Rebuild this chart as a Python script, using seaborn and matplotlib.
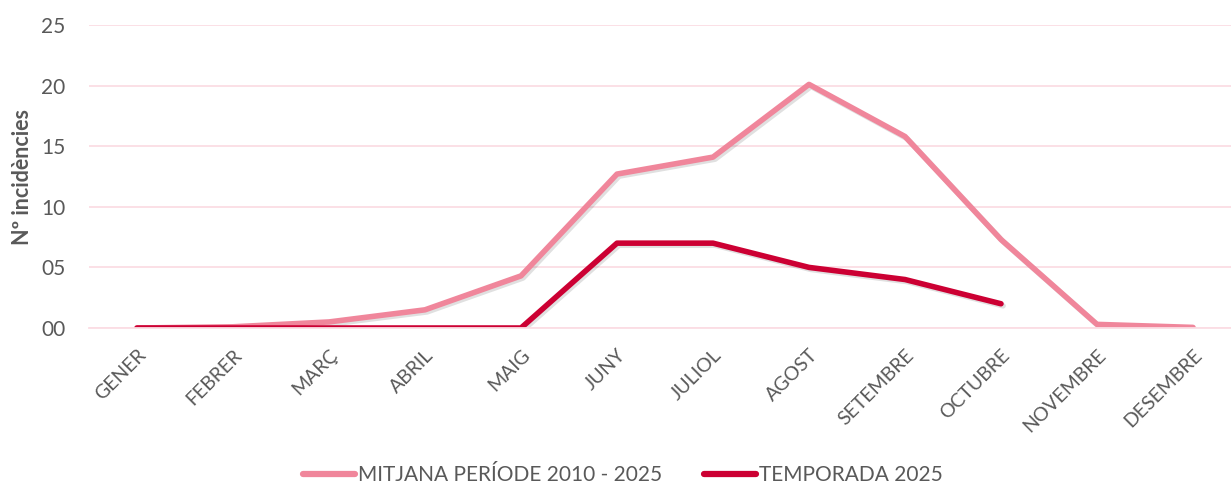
import numpy as np
import pandas as pd
import matplotlib
matplotlib.use("Agg")
import matplotlib.pyplot as plt
import matplotlib.patheffects as pe
from matplotlib.ticker import FixedLocator, FormatStrFormatter
import seaborn as sns

sns.set_theme(style="white")
plt.rcParams['font.family'] = ['Lato', 'DejaVu Sans']

# data
months = ["GENER", "FEBRER", "MARÇ", "ABRIL", "MAIG", "JUNY", "JULIOL",
          "AGOST", "SETEMBRE", "OCTUBRE", "NOVEMBRE", "DESEMBRE"]
mitjana = [0.0, 0.1, 0.5, 1.5, 4.3, 12.7, 14.1, 20.1, 15.8, 7.3, 0.3, 0.05]
temporada = [0, 0, 0, 0, 0, 7, 7, 5, 4, 2]

label_mitjana = "MITJANA PERÍODE 2010 - 2025"
label_temporada = "TEMPORADA 2025"

pink = "#F0869B"
red = "#CC0033"
grid_c = "#FBDDE4"
text_c = "#595959"

df_m = pd.DataFrame({"mes": months, "val": mitjana})
df_t = pd.DataFrame({"mes": months[:len(temporada)], "val": temporada})

fig = plt.figure(figsize=(12.31, 4.94), dpi=100)
ax = fig.add_axes([89 / 1231, 166 / 494, 1152 / 1231, 303 / 494])

shadow = [pe.SimpleLineShadow(offset=(1.5, -1.5), alpha=0.12, shadow_color="black"), pe.Normal()]

sns.lineplot(data=df_m, x="mes", y="val", ax=ax, color=pink, lw=4, sort=False,
             label=label_mitjana, solid_capstyle="round", path_effects=shadow)
sns.lineplot(data=df_t, x="mes", y="val", ax=ax, color=red, lw=4, sort=False,
             label=label_temporada, solid_capstyle="round", path_effects=shadow)

ax.set_xlim(-0.5, 11.5)
ax.set_ylim(0, 25)
ax.set_yticks([0, 5, 10, 15, 20, 25])
ax.yaxis.set_major_formatter(FormatStrFormatter("%02d"))
ax.yaxis.grid(True, color=grid_c, lw=1.3)
ax.set_axisbelow(True)
for s in ["top", "right", "left"]:
    ax.spines[s].set_visible(False)
ax.spines["bottom"].set_color(grid_c)
ax.spines["bottom"].set_linewidth(1.3)

ax.tick_params(axis="y", length=0, pad=17, labelsize=15, labelcolor=text_c)
ax.set_xticks(range(len(months)))
ax.set_xticklabels(months, rotation=45, ha="right", rotation_mode="anchor")
ax.tick_params(axis="x", which="major", length=0, pad=13, labelsize=14, labelcolor=text_c)
ax.xaxis.set_minor_locator(FixedLocator(np.arange(-0.5, 12, 1)))
ax.tick_params(axis="x", which="minor", length=6, width=1.3, color=grid_c, direction="out")

ax.set_xlabel("")
ax.set_ylabel("Nº incidències", fontsize=15.5, fontweight="bold", color=text_c, labelpad=6)

ax.get_legend().remove()
h, l = ax.get_legend_handles_labels()
leg = fig.legend(h, l, loc="lower center", bbox_to_anchor=(0.506, -0.02), ncol=2,
                 frameon=False, fontsize=15, handlelength=2.5, handletextpad=0.15,
                 columnspacing=2.0)
for t in leg.get_texts():
    t.set_color(text_c)
for ln in leg.get_lines():
    ln.set_linewidth(4.5)
    ln.set_path_effects([])

fig.savefig("out.png", dpi=100)
